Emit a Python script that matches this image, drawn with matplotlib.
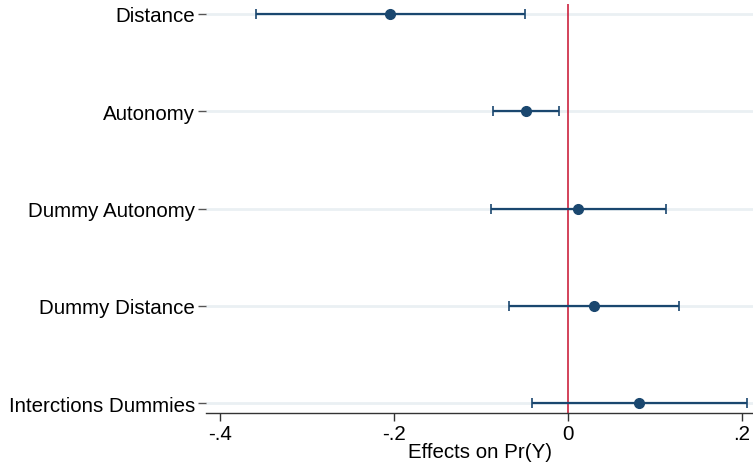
import matplotlib
matplotlib.use("Agg")
from matplotlib import pyplot as plt

# Data #
labels = ["Distance", "Autonomy", "Dummy Autonomy", "Dummy Distance", "Interctions Dummies"]
effects = [-0.205, -0.048, 0.011, 0.030, 0.082]
ci_low = [-0.358, -0.086, -0.089, -0.068, -0.041]
ci_high = [-0.049, -0.010, 0.113, 0.128, 0.206]

x_ticks = [-0.4, -0.2, 0.0, 0.2]
x_ticklabels = ["-.4", "-.2", "0", ".2"]
x_name = "Effects on Pr(Y)"

# Styles #
plt.rcParams['font.family'] = ['Liberation Sans', 'DejaVu Sans']
navy = "#1a476f"
grid_col = "#eaf0f3"
fsize = 14.8

fig = plt.figure(figsize=(7.53, 4.64), dpi=100)
ax = fig.add_axes([0.2736, 0.1078, 0.7264, 0.881])

pos = list(range(1, len(labels) + 1))
for p in pos:
    ax.axhline(p, color=grid_col, lw=2, zorder=0)

ax.axvline(0, color="#c8102e", lw=1.1, zorder=1)

err_lo = [e - l for e, l in zip(effects, ci_low)]
err_hi = [h - e for e, h in zip(effects, ci_high)]
ax.errorbar(effects, pos, xerr=[err_lo, err_hi], fmt="o", color=navy,
            ms=7, lw=1.6, capsize=3.3, capthick=1.2, zorder=3)

ax.set_ylim(5.1, 0.9)
ax.set_xlim(-0.416, 0.2126)

ax.set_yticks(pos)
ax.set_yticklabels(labels, fontsize=fsize)
ax.set_xticks(x_ticks)
ax.set_xticklabels(x_ticklabels, fontsize=fsize)
ax.set_xlabel(x_name, fontsize=fsize, labelpad=-1)

ax.tick_params(axis="y", length=6, width=1, color="#555555", pad=2)
ax.tick_params(axis="x", length=6, width=1, color="#333333", pad=2)

for s in ["top", "right", "left"]:
    ax.spines[s].set_visible(False)
ax.spines["bottom"].set_color("#333333")
ax.spines["bottom"].set_linewidth(1)

fig.savefig("out.png", dpi=100)
